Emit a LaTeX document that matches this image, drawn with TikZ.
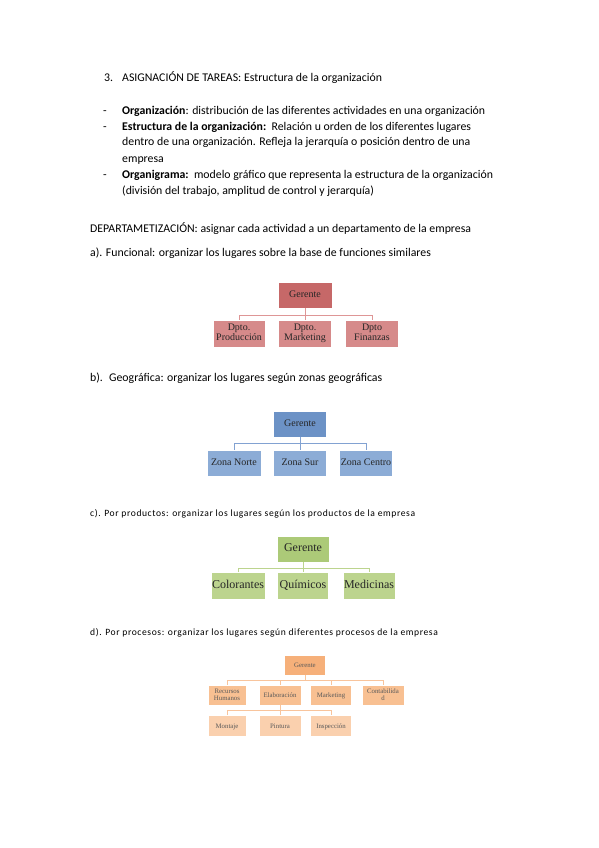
\documentclass[tikz,border=0pt]{standalone}
\usepackage{fontspec}
\setmainfont{Carlito}
\newfontfamily\tnr{Liberation Serif}
\definecolor{rA}{RGB}{198,104,104}
\definecolor{rB}{RGB}{214,138,138}
\definecolor{rL}{RGB}{222,150,150}
\definecolor{bA}{RGB}{108,146,198}
\definecolor{bB}{RGB}{140,172,214}
\definecolor{bL}{RGB}{130,162,210}
\definecolor{gA}{RGB}{172,202,120}
\definecolor{gB}{RGB}{188,212,142}
\definecolor{gL}{RGB}{188,212,142}
\definecolor{oA}{RGB}{246,176,122}
\definecolor{oB}{RGB}{248,192,146}
\definecolor{oC}{RGB}{250,208,174}
\definecolor{oL}{RGB}{248,196,156}
\begin{document}
\begin{tikzpicture}[x=1pt,y=-1pt,
  txt/.style={anchor=base west,inner sep=0pt,font=\fontsize{11.8}{13}\selectfont},
  small/.style={anchor=base west,inner sep=0pt,font=\fontsize{9.6}{11}\selectfont\addfontfeature{LetterSpace=6}},
  bx/.style={draw=white,line width=0.8pt,inner sep=1pt,align=center,text=black!85},
  one/.style={text height=1.5ex,text depth=0.35ex},
  conn/.style={line width=1pt}]
\useasboundingbox (0,0) rectangle (599,848);
% ---- text ----
\node[txt] (t3n) at (104,82) {3.};
\node[txt] (t3) at (122,82) {ASIGNACIÓN DE TAREAS: Estructura de la organización};
\node[txt] (d1) at (103,115) {-};
\node[txt] (l1) at (122,115) {\textbf{Organización}: distribución de las diferentes actividades en una organización};
\node[txt] (d2) at (103,131) {-};
\node[txt] (l2) at (122,131) {\textbf{Estructura de la organización:}\ \ Relación u orden de los diferentes lugares};
\node[txt] (l3) at (122,146) {dentro de una organización. Refleja la jerarquía o posición dentro de una};
\node[txt] (l4) at (122,162) {empresa};
\node[txt] (d3) at (103,178) {-};
\node[txt] (l5) at (122,178) {\textbf{Organigrama:}\ \ modelo gráfico que representa la estructura de la organización};
\node[txt] (l6) at (122,194) {(división del trabajo, amplitud de control y jerarquía)};
\node[txt] (dep) at (90,232) {DEPARTAMETIZACIÓN: asignar cada actividad a un departamento de la empresa};
\node[txt] (ta) at (90,256) {a). Funcional: organizar los lugares sobre la base de funciones similares};
\node[txt] (tb) at (90,381) {b). \ Geográfica: organizar los lugares según zonas geográficas};
\node[small] (tc) at (90,516) {c). Por productos: organizar los lugares según los productos de la empresa};
\node[small] (td) at (90,635) {d). Por procesos: organizar los lugares según diferentes procesos de la empresa};
% ---- a) Funcional ----
\begin{scope}[every node/.style={bx,font=\tnr\fontsize{10}{10}\selectfont}]
\node[fill=rA,one,minimum width=54pt,minimum height=26pt] (fg) at (305,295) {Gerente};
\node[fill=rB,minimum width=52pt,minimum height=27pt] (f1) at (239,334) {Dpto.\\Producción\strut};
\node[fill=rB,minimum width=53pt,minimum height=27pt] (f2) at (305,334) {Dpto.\\Marketing\strut};
\node[fill=rB,minimum width=53pt,minimum height=27pt] (f3) at (372,334) {Dpto\\Finanzas\strut};
\end{scope}
\draw[conn,rL] (fg.south) -- ++(0,7) coordinate (fm);
\draw[conn,rL] (f1.north) |- (fm) -| (f3.north);
\draw[conn,rL] (fm) -- (f2.north);
% ---- b) Geografica ----
\begin{scope}[every node/.style={bx,one,font=\tnr\fontsize{10}{10}\selectfont}]
\node[fill=bA,minimum width=53pt,minimum height=26pt] (gg) at (300,424) {Gerente};
\node[fill=bB,minimum width=54pt,minimum height=26pt] (g1) at (234,463) {Zona Norte};
\node[fill=bB,minimum width=53pt,minimum height=26pt] (g2) at (300,463) {Zona Sur};
\node[fill=bB,minimum width=53pt,minimum height=26pt] (g3) at (366,463) {Zona Centro};
\end{scope}
\draw[conn,bL] (gg.south) -- ++(0,6) coordinate (gm);
\draw[conn,bL] (g1.north) |- (gm) -| (g3.north);
\draw[conn,bL] (gm) -- (g2.north);
% ---- c) Productos ----
\begin{scope}[every node/.style={bx,one,font=\tnr\fontsize{12}{12}\selectfont}]
\node[fill=gA,minimum width=52pt,minimum height=26pt] (pg) at (303,549) {Gerente};
\node[fill=gB,minimum width=52pt,minimum height=27pt] (p1) at (238,586) {Colorantes};
\node[fill=gB,minimum width=51pt,minimum height=27pt] (p2) at (303,586) {Químicos};
\node[fill=gB,minimum width=52pt,minimum height=27pt] (p3) at (369,586) {Medicinas};
\end{scope}
\draw[conn,gL] (pg.south) -- ++(0,6) coordinate (pm);
\draw[conn,gL] (p1.north) |- (pm) -| (p3.north);
\draw[conn,gL] (pm) -- (p2.north);
% ---- d) Procesos ----
\begin{scope}[every node/.style={bx,font=\tnr\fontsize{6.8}{7}\selectfont,text=black!65}]
\node[fill=oA,one,minimum width=41pt,minimum height=20pt] (og) at (305,665) {Gerente};
\node[fill=oB,minimum width=38pt,minimum height=20pt] (o1) at (227,695) {Recursos\\Humanos};
\node[fill=oB,one,minimum width=42pt,minimum height=20pt] (o2) at (280,695) {Elaboración};
\node[fill=oB,one,minimum width=41pt,minimum height=20pt] (o3) at (331,695) {Marketing};
\node[fill=oB,minimum width=42pt,minimum height=20pt] (o4) at (383,695) {Contabilida\\d};
\node[fill=oC,one,minimum width=38pt,minimum height=21pt] (o5) at (227,726) {Montaje};
\node[fill=oC,one,minimum width=42pt,minimum height=21pt] (o6) at (280,726) {Pintura};
\node[fill=oC,one,minimum width=41pt,minimum height=21pt] (o7) at (331,726) {Inspección};
\end{scope}
\draw[conn,oL] (og.south) -- ++(0,5) coordinate (om);
\draw[conn,oL] (o1.north) |- (om) -| (o4.north);
\draw[conn,oL] (o2.north) -- (o2.north |- om);
\draw[conn,oL] (o3.north) -- (o3.north |- om);
\draw[conn,oL] (o2.south) -- ++(0,5) coordinate (om2);
\draw[conn,oL] (o5.north) |- (om2) -| (o7.north);
\draw[conn,oL] (om2) -- (o6.north);
\end{tikzpicture}
\end{document}
